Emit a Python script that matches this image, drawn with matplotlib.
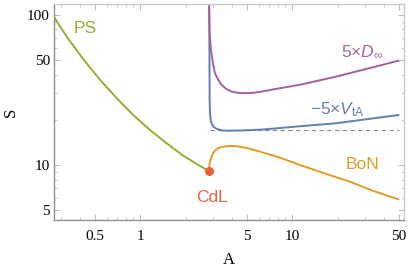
"""Log-log plot of S against A for the PS, BoN and CdL branches."""

import matplotlib

matplotlib.use("Agg")
import matplotlib.pyplot as plt  # noqa: E402
from matplotlib.ticker import FixedLocator, NullFormatter  # noqa: E402

plt.rcParams.update(
    {
        "mathtext.fontset": "custom",
        "mathtext.rm": "Liberation Sans",
        "mathtext.it": "Liberation Sans:italic",
    }
)

# values
ps_a = [0.270, 0.327, 0.420, 0.542, 0.697, 0.897, 1.155, 1.487, 1.913, 2.462, 2.835]
ps_s = [96.6, 71.6, 50.7, 36.9, 27.9, 21.5, 17.1, 13.95, 11.53, 9.85, 9.08]

bon_a = [2.835, 2.84, 2.896, 2.986, 3.09, 3.25, 3.51, 3.88, 4.29, 4.99, 6.11,
         8.27, 11.2, 16.7, 23.9, 34.1, 49.7]
bon_s = [9.08, 10.0, 10.9, 11.84, 12.45, 12.98, 13.24, 13.39, 13.33, 12.98, 12.27,
         11.19, 10.0, 8.71, 7.74, 6.71, 5.91]

vta_a = [2.835, 2.853, 2.868, 2.909, 3.013, 3.17, 3.42, 3.78, 4.87, 6.27, 7.67,
         11.2, 19.5, 49.7]
vta_s = [120, 27.1, 22.1, 19.4, 18.0, 17.4, 17.0, 16.9, 17.0, 17.2, 17.5,
         18.1, 18.97, 21.5]

dinf_a = [2.823, 2.853, 2.909, 3.013, 3.09, 3.25, 3.42, 3.69, 3.98, 4.40, 4.87,
          5.52, 6.27, 7.67, 11.2, 19.5, 32.3, 49.7]
dinf_s = [120, 75.5, 58.4, 46.4, 40.8, 36.9, 34.1, 32.0, 30.8, 30.2, 30.06,
          30.2, 30.8, 32.0, 34.2, 38.8, 44.2, 49.4]

cdl_a, cdl_s = 2.835, 9.08
vta_floor = 17.0
floor_a = [2.85, 50.0]

GREEN = "#8fb032"
ORANGE = "#e19c24"
BLUE = "#5e81b5"
PURPLE = "#a5609d"
RED = "#eb6235"

fig = plt.figure(figsize=(4.09, 2.70), dpi=100)
ax = fig.add_axes((54 / 409, 1 - 220 / 270, 350 / 409, 216 / 270))
ax.set_xscale("log")
ax.set_yscale("log")

ax.plot(floor_a, [vta_floor] * 2, color="#888888", lw=0.8, ls=(0, (4, 3)))
ax.plot(ps_a, ps_s, color=GREEN, lw=1.4)
ax.plot(bon_a, bon_s, color=ORANGE, lw=1.4)
ax.plot(vta_a, vta_s, color=BLUE, lw=1.4)
ax.plot(dinf_a, dinf_s, color=PURPLE, lw=1.4)
ax.plot([cdl_a], [cdl_s], "o", color=RED, ms=5.5, zorder=5)

lab = dict(family="Liberation Sans", fontsize=12.5, ha="center", va="center")
ax.text(0.431, 80.7, "PS", color=GREEN, **lab)
ax.text(28.8, 56.7, r"5$\times$$D_{\infty}$", color=PURPLE, **lab)
ax.text(19.9, 23.3, r"$-$5$\times$$V_{\mathrm{tA}}$", color=BLUE, **lab)
ax.text(29.1, 10.0, "BoN", color=ORANGE, **lab)
ax.text(2.95, 6.03, "CdL", color=RED, **lab)

ax.set_xlim(0.27, 54.2)
ax.set_ylim(4.3, 118)

xmaj = [0.5, 1, 5, 10, 50]
xmin = [0.3, 0.4, 0.6, 0.7, 0.8, 0.9, 2, 3, 4, 6, 7, 8, 9, 20, 30, 40]
ymaj = [5, 10, 50, 100]
ymin = [6, 7, 8, 9, 20, 30, 40, 60, 70, 80, 90]
ax.xaxis.set_major_locator(FixedLocator(xmaj))
ax.xaxis.set_minor_locator(FixedLocator(xmin))
ax.yaxis.set_major_locator(FixedLocator(ymaj))
ax.yaxis.set_minor_locator(FixedLocator(ymin))
ax.set_xticklabels(["0.5", "1", "5", "10", "50"])
ax.set_yticklabels(["5", "10", "50", "100"])
ax.xaxis.set_minor_formatter(NullFormatter())
ax.yaxis.set_minor_formatter(NullFormatter())

ax.tick_params(which="both", direction="in", color="#b0b0b0", top=True, right=True,
               labelsize=11, labelfontfamily="Liberation Serif")
ax.tick_params(axis="x", pad=7)
ax.tick_params(axis="y", pad=3)
ax.tick_params(which="major", length=4, width=0.6)
ax.tick_params(which="minor", length=2.2, width=0.5)

for side in ("left", "bottom"):
    ax.spines[side].set_color("#909090")
    ax.spines[side].set_linewidth(1.0)
for side in ("top", "right"):
    ax.spines[side].set_color("#c8c8c8")
    ax.spines[side].set_linewidth(1.0)

ax.set_xlabel("A", family="Liberation Serif", fontsize=12, labelpad=7)
ax.set_ylabel("S", family="Liberation Serif", fontsize=12, labelpad=6)

fig.savefig("out.png", dpi=100)
